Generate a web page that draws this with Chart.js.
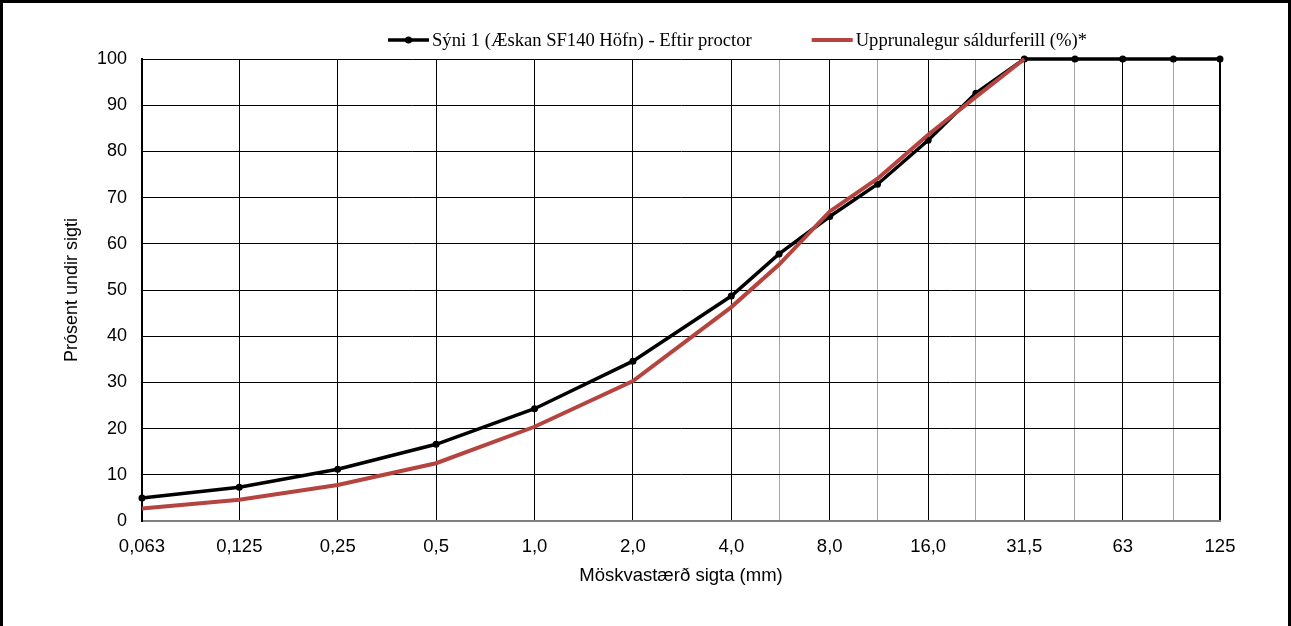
<!DOCTYPE html>
<html>
<head>
<meta charset="utf-8">
<script src="https://cdn.jsdelivr.net/npm/chart.js@4.4.0/dist/chart.umd.min.js"></script>
<style>
  html, body { margin: 0; padding: 0; background: #fff; }
  #frame { width: 1291px; height: 626px; box-sizing: border-box; border: 3px solid #000; border-bottom: none; }
  #chart { display: block; }
</style>
</head>
<body>
<div id="frame"><canvas id="chart" width="1285" height="623"></canvas></div>
<script>
// Sigtastærðir (mm) - allar mælistærðir
const sieveSizes = [0.063, 0.125, 0.25, 0.5, 1, 2, 4, 5.6, 8, 11.2, 16, 22.4, 31.5, 45, 63, 90, 125];
// Stærðir með merkingu á x-ás
const majorSizes = [0.063, 0.125, 0.25, 0.5, 1, 2, 4, 8, 16, 31.5, 63, 125];
const majorLabels = ['0,063', '0,125', '0,25', '0,5', '1,0', '2,0', '4,0', '8,0', '16,0', '31,5', '63', '125'];

// Sýni 1 - eftir proctor
const sampleValues = [5.0, 7.3, 11.2, 16.6, 24.3, 34.6, 48.7, 57.8, 65.9, 72.9, 82.4, 92.6, 100, 100, 100, 100, 100];
// Upprunalegur sáldurferill (nær upp í 31,5 mm)
const originalValues = [2.7, 4.6, 7.8, 12.5, 20.4, 30.3, 46.3, 55.5, 67.0, 74.1, 83.6, 91.8, 100];

const yTicks = [0, 10, 20, 30, 40, 50, 60, 70, 80, 90, 100];

const sansFont = '"Liberation Sans", Arial, sans-serif';
const serifFont = '"Liberation Serif", "Times New Roman", serif';

function toPoints(values) {
  return values.map((v, i) => ({ x: sieveSizes[i], y: v }));
}

// Einföld skýring (legend) teiknuð á canvas
const legendPlugin = {
  id: 'sieveLegend',
  afterDraw(chart, args, opts) {
    const ctx = chart.ctx;
    ctx.save();
    ctx.font = '18.6px ' + serifFont;
    ctx.textBaseline = 'middle';
    ctx.fillStyle = '#000';
    let x = opts.left;
    const y = opts.top;
    chart.data.datasets.forEach(ds => {
      ctx.strokeStyle = ds.borderColor;
      ctx.lineWidth = ds.borderWidth;
      ctx.beginPath();
      ctx.moveTo(x, y);
      ctx.lineTo(x + opts.swatch, y);
      ctx.stroke();
      if (ds.pointRadius > 0) {
        ctx.fillStyle = ds.pointBackgroundColor;
        ctx.beginPath();
        ctx.arc(x + opts.swatch / 2, y, ds.pointRadius, 0, Math.PI * 2);
        ctx.fill();
      }
      ctx.fillStyle = '#000';
      ctx.fillText(ds.label, x + opts.swatch + 3, y + 1);
      x += opts.swatch + 3 + ctx.measureText(ds.label).width + opts.gap;
    });
    ctx.restore();
  }
};

const chart = new Chart(document.getElementById('chart'), {
  type: 'line',
  data: {
    datasets: [
      {
        label: 'Sýni 1 (Æskan SF140 Höfn) - Eftir proctor',
        data: toPoints(sampleValues),
        borderColor: '#000',
        backgroundColor: '#000',
        pointBackgroundColor: '#000',
        pointBorderWidth: 0,
        borderWidth: 3.5,
        pointRadius: 3.5,
        tension: 0,
        clip: false,
        order: 1
      },
      {
        label: 'Upprunalegur sáldurferill (%)*',
        data: toPoints(originalValues),
        borderColor: '#b5443f',
        backgroundColor: '#b5443f',
        borderWidth: 4,
        pointRadius: 0,
        tension: 0,
        clip: false,
        order: 0
      }
    ]
  },
  options: {
    responsive: false,
    animation: false,
    layout: { padding: { left: 0, right: 68, top: 56, bottom: 0 } },
    plugins: {
      legend: { display: false },
      tooltip: { enabled: false },
      sieveLegend: { left: 385, top: 37, swatch: 41, gap: 60 }
    },
    scales: {
      x: {
        type: 'logarithmic',
        min: sieveSizes[0],
        max: sieveSizes[sieveSizes.length - 1],
        afterBuildTicks: axis => { axis.ticks = sieveSizes.map(v => ({ value: v })); },
        afterFit: axis => { axis.height = 105; },
        ticks: {
          autoSkip: false,
          maxRotation: 0,
          padding: 15,
          color: '#000',
          font: { family: sansFont, size: 18.5 },
          callback: value => {
            const i = majorSizes.indexOf(value);
            return i >= 0 ? majorLabels[i] : '';
          }
        },
        grid: {
          drawTicks: false,
          color: ctx => majorSizes.includes(ctx.tick.value) ? '#000' : '#a6a6a6',
          lineWidth: ctx => ctx.tick.value === 125 ? 2 : 1
        },
        border: { color: '#808080', width: 2 },
        title: {
          display: true,
          text: 'Möskvastærð sigta (mm)',
          color: '#000',
          font: { family: sansFont, size: 18.5 },
          padding: { top: 4, bottom: 39 }
        }
      },
      y: {
        min: 0,
        max: 100,
        afterBuildTicks: axis => { axis.ticks = yTicks.map(v => ({ value: v })); },
        afterFit: axis => { axis.width = 139; },
        ticks: {
          padding: 15,
          color: '#000',
          font: { family: sansFont, size: 18 }
        },
        grid: { drawTicks: false, color: '#000', lineWidth: 1 },
        border: { color: '#000', width: 2 },
        title: {
          display: true,
          text: 'Prósent undir sigti',
          color: '#000',
          font: { family: sansFont, size: 18 },
          padding: { top: 58, bottom: 0 }
        }
      }
    }
  },
  plugins: [legendPlugin]
});
</script>
</body>
</html>
